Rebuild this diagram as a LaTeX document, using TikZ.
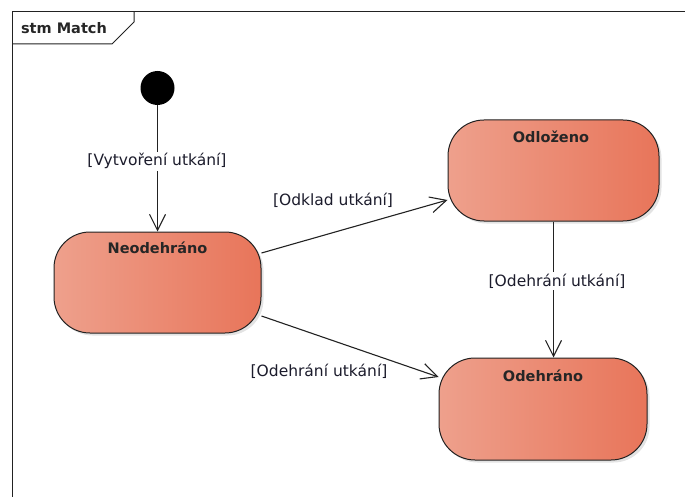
\documentclass[tikz,border=0pt]{standalone}
\usepackage{fontspec}
\setmainfont{DejaVu Sans}
\usetikzlibrary{arrows.meta,shadows}
\definecolor{stateL}{HTML}{EEA08C}
\definecolor{stateR}{HTML}{E8755A}
\definecolor{guardtxt}{HTML}{1C1C2C}
\definecolor{edge}{HTML}{222222}
\begin{document}
\begin{tikzpicture}[x=1pt,y=-1pt,
  state/.style={draw=edge, line width=1pt, rounded corners=36pt,
    left color=stateL, right color=stateR,
    minimum width=207pt, minimum height=101pt,
    drop shadow={shadow xshift=2.5pt, shadow yshift=-2.5pt, opacity=0.22}},
  statename/.style={anchor=base, inner sep=0pt,
    font=\bfseries\fontsize{14.5}{17}\selectfont, text=black!85},
  guard/.style={anchor=base, fill=white, inner sep=1.5pt,
    font=\fontsize{15.5}{18}\selectfont, text=guardtxt},
  trans/.style={draw=edge, line width=1.1pt,
    -{Straight Barb[length=16pt,width=16pt,line width=1.1pt]}},
  frameline/.style={draw=edge, line width=1pt}]
\useasboundingbox (0,0) rectangle (685,497);

% diagram frame and its name tab
\draw[frameline] (685,12) -- (12,12) -- (12,497);
\draw[frameline] (12,44) -- (112,44) -- (134,22) -- (134,12);
\node[statename] (frametitle) at (64,34) {stm Match};

% initial pseudo-state
\node[circle, fill=black, minimum size=34pt, inner sep=0pt] (init) at (157.5,88) {};

% states
\node[state] (neo) at (157.5,282.5) {};
\node[statename] (neoname) at (157.5,253) {Neodehráno};

\node[state, minimum width=211pt] (odl) at (553.5,170.5) {};
\node[statename] (odlname) at (551,143) {Odloženo};

\node[state, minimum width=208pt, minimum height=102pt] (odh) at (543,409) {};
\node[statename] (odhname) at (543,381) {Odehráno};

% transitions
\draw[trans] (init) -- (neo);
\draw[trans] ([yshift=29.5pt]neo.east) -- ([yshift=-29.5pt]odl.west);
\draw[trans] ([yshift=-33.5pt]neo.east) -- ([yshift=32pt]odh.west);
\draw[trans] (odl.south) -- (odl.south |- odh.north);

% guard labels
\node[guard] (g1) at (157,166) {[Vytvoření utkání]};
\node[guard] (g2) at (333,206) {[Odklad utkání]};
\node[guard] (g3) at (319,376) {[Odehrání utkání]};
\node[guard] (g4) at (557,286) {[Odehrání utkání]};
\end{tikzpicture}
\end{document}
